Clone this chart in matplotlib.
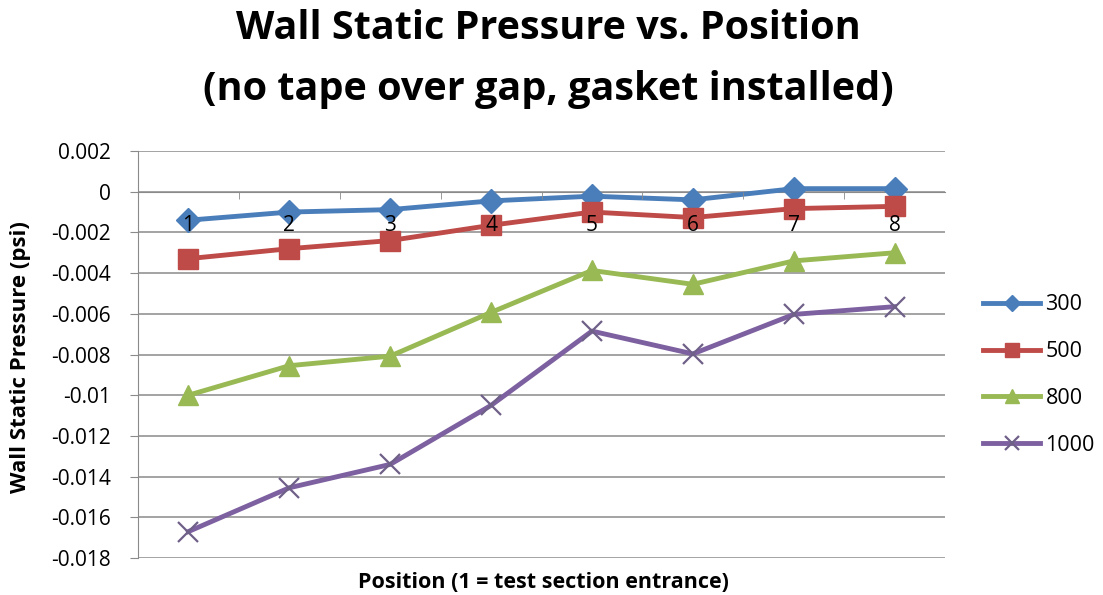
import matplotlib.pyplot as plt
import numpy as np

plt.rcParams['font.family'] = ['Open Sans', 'DejaVu Sans']

# positions along the test section and wall static pressure (psi) per run
positions = ['1', '2', '3', '4', '5', '6', '7', '8']
p300 = [-0.00140, -0.00100, -0.00088, -0.00045, -0.00022, -0.00040, 0.00015, 0.00015]
p500 = [-0.00329, -0.00280, -0.00240, -0.00165, -0.00100, -0.00127, -0.00083, -0.00072]
p800 = [-0.01000, -0.00855, -0.00808, -0.00593, -0.00387, -0.00455, -0.00340, -0.00300]
p1000 = [-0.01670, -0.01455, -0.01340, -0.01050, -0.00685, -0.00797, -0.00603, -0.00565]
series_names = ['300', '500', '800', '1000']

y_ticks = np.arange(-0.018, 0.0021, 0.002)
y_labels = ['-0.018', '-0.016', '-0.014', '-0.012', '-0.01', '-0.008', '-0.006',
            '-0.004', '-0.002', '0', '0.002']

fig = plt.figure(figsize=(11.03, 5.95), dpi=100)
ax = fig.add_axes([0.1251, 0.0622, 0.7317, 0.684])

x = np.arange(len(positions))
styles = [
    dict(color='#4A7EBB', marker='D', markersize=12),
    dict(color='#BE4B48', marker='s', markersize=14.5),
    dict(color='#98B954', marker='^', markersize=15),
    dict(color='#7D60A0', marker='x', markersize=14.5, markeredgewidth=1.6,
         markeredgecolor='#6F6088'),
]
for vals, name, st in zip([p300, p500, p800, p1000], series_names, styles):
    ax.plot(x, vals, linewidth=3.5, label=name, zorder=3, clip_on=False, **st)

ax.set_xlim(-0.5, len(positions) - 0.5)
ax.set_ylim(-0.018, 0.002)
ax.set_yticks(y_ticks)
ax.set_yticklabels(y_labels, fontsize=15)
ax.grid(axis='y', color='#8A8A8A', linewidth=1.1)
ax.set_axisbelow(True)

# category axis sits on the zero line, ticks between categories
ax.spines['bottom'].set_position(('data', 0))
ax.spines['bottom'].set_color('#8A8A8A')
ax.spines['left'].set_color('#8A8A8A')
ax.spines['top'].set_visible(False)
ax.spines['right'].set_visible(False)
ax.set_xticks(x)
ax.set_xticklabels(positions, fontsize=15)
ax.set_xticks(np.arange(0.5, len(positions) - 0.5, 1.0), minor=True)
ax.tick_params(axis='x', which='major', length=0, pad=16.5)
ax.tick_params(axis='x', which='minor', length=5, color='#8A8A8A', direction='out')
ax.tick_params(axis='y', length=5.5, color='#8A8A8A', pad=14)
ax.xaxis.set_zorder(4)

fig.text(0.019, 0.40, 'Wall Static Pressure (psi)', rotation=90, ha='center',
         va='center', fontsize=16, fontweight='bold')
fig.text(0.493, 0.0118, 'Position (1 = test section entrance)', ha='center',
         va='baseline', fontsize=15.5, fontweight='bold')

fig.text(0.497, 0.9345, 'Wall Static Pressure vs. Position', ha='center',
         va='baseline', fontsize=28.5, fontweight='bold')
fig.text(0.497, 0.832, '(no tape over gap, gasket installed)', ha='center',
         va='baseline', fontsize=28.5, fontweight='bold')

ax.legend(loc='center left', bbox_to_anchor=(0.8912, 0.3697),
          bbox_transform=fig.transFigure, frameon=False, fontsize=15.5,
          handlelength=2.65, labelspacing=1.2, handletextpad=0.25,
          borderpad=0, borderaxespad=0, markerscale=0.7)

fig.savefig('out.png', dpi=100)
